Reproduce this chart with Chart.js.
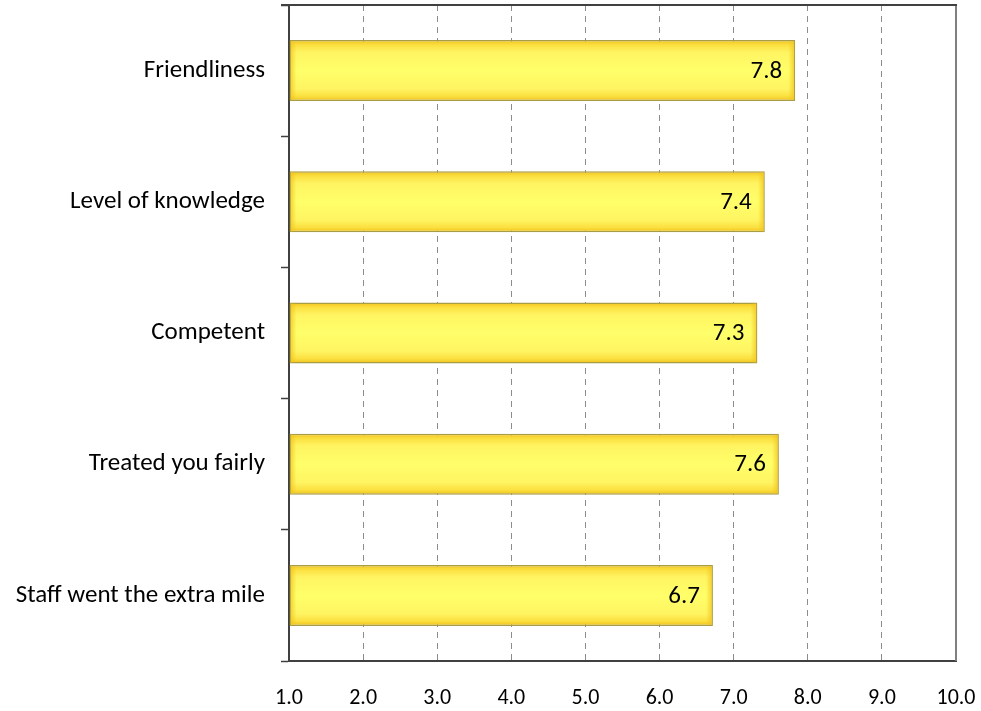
<!DOCTYPE html>
<html>
<head>
<meta charset="utf-8">
<script src="https://cdn.jsdelivr.net/npm/chart.js@4.4.1/dist/chart.umd.min.js"></script>
<style>
  html, body { margin: 0; padding: 0; background: #ffffff; }
  #wrap { width: 981px; height: 711px; position: relative; }
</style>
</head>
<body>
<div id="wrap"><canvas id="c" width="981" height="711"></canvas></div>
<script>
const categories = ["Friendliness", "Level of knowledge", "Competent", "Treated you fairly", "Staff went the extra mile"];
const scores = [7.83, 7.42, 7.32, 7.61, 6.72];
const xTicks = [1, 2, 3, 4, 5, 6, 7, 8, 9, 10];

const FONT = "Carlito, Lato, 'Open Sans', sans-serif";
const BAR_PCT = 0.465;

function barGradient(c) {
  const chart = c.chart;
  const area = chart.chartArea;
  if (!area) return '#ffff66';
  const ctx = chart.ctx;
  const yScale = chart.scales.y;
  const center = yScale.getPixelForValue(c.dataIndex);
  const band = (area.bottom - area.top) / categories.length;
  const half = band * BAR_PCT / 2;
  const g = ctx.createLinearGradient(0, center - half, 0, center + half);
  g.addColorStop(0, '#f2c21c');
  g.addColorStop(0.08, '#fbe040');
  g.addColorStop(0.2, '#fff462');
  g.addColorStop(0.5, '#ffff6a');
  g.addColorStop(0.8, '#fff462');
  g.addColorStop(0.92, '#fbe040');
  g.addColorStop(1, '#f0c018');
  return g;
}

const edgeShade = {
  id: 'edgeShade',
  afterDatasetDraw(chart) {
    const ctx = chart.ctx;
    const meta = chart.getDatasetMeta(0);
    meta.data.forEach(el => {
      const top = el.y - el.height / 2 + 1, bottom = el.y + el.height / 2 - 1;
      const left = el.base + 1, right = el.x - 1;
      ctx.save();
      let g = ctx.createLinearGradient(left, 0, left + 6, 0);
      g.addColorStop(0, 'rgba(240,195,25,0.7)');
      g.addColorStop(1, 'rgba(240,195,25,0)');
      ctx.fillStyle = g;
      ctx.fillRect(left, top, 6, bottom - top);
      g = ctx.createLinearGradient(right - 6, 0, right, 0);
      g.addColorStop(0, 'rgba(240,195,25,0)');
      g.addColorStop(1, 'rgba(240,195,25,0.7)');
      ctx.fillStyle = g;
      ctx.fillRect(right - 6, top, 6, bottom - top);
      ctx.restore();
    });
  }
};

const valueLabels = {
  id: 'valueLabels',
  afterDatasetsDraw(chart) {
    const ctx = chart.ctx;
    const meta = chart.getDatasetMeta(0);
    ctx.save();
    ctx.font = "25px " + FONT;
    ctx.fillStyle = '#000000';
    ctx.textAlign = 'right';
    ctx.textBaseline = 'middle';
    meta.data.forEach((el, i) => {
      ctx.fillText(scores[i].toFixed(1), el.x - 13, el.y + 1);
    });
    ctx.restore();
  }
};

const frame = {
  id: 'frame',
  afterDraw(chart) {
    const {ctx, chartArea: a} = chart;
    ctx.save();
    ctx.strokeStyle = '#808080';
    ctx.lineWidth = 2;
    ctx.beginPath();
    ctx.moveTo(a.right, a.top);
    ctx.lineTo(a.right, a.bottom);
    ctx.stroke();
    ctx.strokeStyle = '#404040';
    ctx.beginPath();
    ctx.moveTo(a.left - 8, a.top);
    ctx.lineTo(a.right + 1, a.top);
    ctx.stroke();
    ctx.restore();
  }
};

new Chart(document.getElementById('c'), {
  type: 'bar',
  data: {
    labels: categories,
    datasets: [{
      data: scores,
      base: 1,
      backgroundColor: barGradient,
      borderColor: '#a89c44',
      borderWidth: 1.5,
      borderSkipped: false,
      barPercentage: BAR_PCT,
      categoryPercentage: 1
    }]
  },
  options: {
    indexAxis: 'y',
    responsive: false,
    animation: false,
    devicePixelRatio: 1,
    layout: { padding: { top: 5, right: 25, left: 0, bottom: 0 } },
    plugins: { legend: { display: false }, tooltip: { enabled: false } },
    scales: {
      x: {
        min: 1, max: 10,
        afterBuildTicks(scale) { scale.ticks = xTicks.map(v => ({ value: v })); },
        afterFit(scale) {
          scale.height = 50;
          scale.paddingLeft = 0; scale.paddingRight = 0;
        },
        grid: {
          color: (c) => (c.tick && (c.tick.value === 1 || c.tick.value === 10)) ? 'rgba(0,0,0,0)' : '#8c8c8c',
          lineWidth: 1,
          drawTicks: false
        },
        border: { display: true, color: '#404040', width: 2, dash: [6, 5] },
        ticks: {
          padding: 24,
          color: '#000000',
          font: { family: FONT, size: 22 },
          maxRotation: 0,
          autoSkip: false,
          callback: (v) => Number(v).toFixed(1)
        }
      },
      y: {
        afterFit(scale) {
          scale.width = 289;
          scale.paddingTop = 0; scale.paddingBottom = 0;
        },
        grid: {
          offset: true,
          drawOnChartArea: false,
          drawTicks: true,
          tickLength: 8,
          tickColor: '#404040',
          tickWidth: 1.5
        },
        border: { display: true, color: '#404040', width: 2 },
        ticks: {
          padding: 16,
          color: '#000000',
          font: { family: FONT, size: 25 }
        }
      }
    }
  },
  plugins: [edgeShade, valueLabels, frame]
});
</script>
</body>
</html>
